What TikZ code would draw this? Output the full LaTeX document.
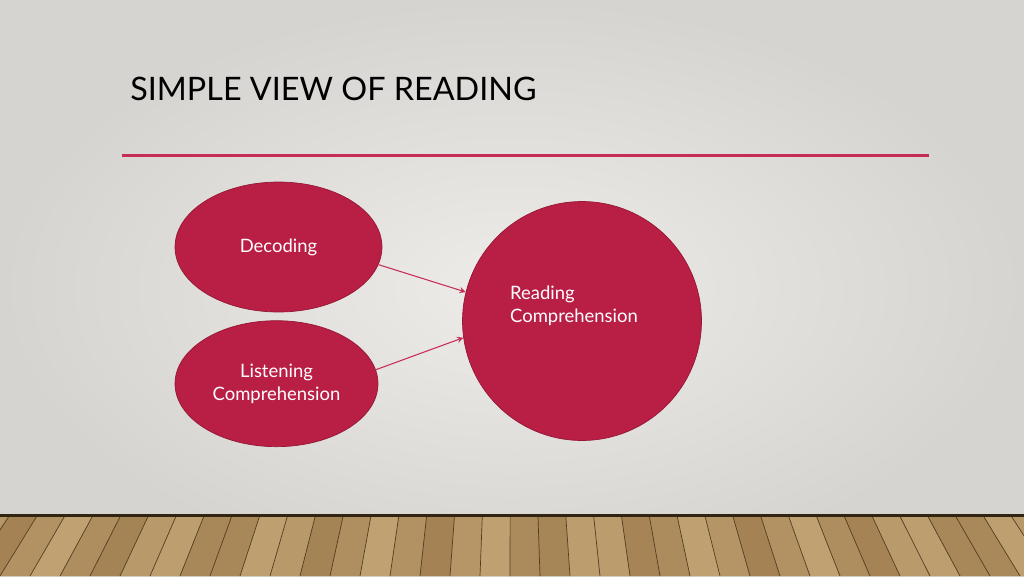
\documentclass[tikz,border=0pt]{standalone}
\usepackage{fontspec}
\setmainfont{Lato}
\usetikzlibrary{shapes, arrows, calc, positioning}

\definecolor{berry}{RGB}{185,30,68}
\definecolor{berryline}{RGB}{198,44,84}
\definecolor{wall}{RGB}{238,236,232}
\definecolor{walledge}{RGB}{214,212,208}
\definecolor{woodA}{RGB}{196,166,118}
\definecolor{woodB}{RGB}{160,126,80}
\definecolor{seam}{RGB}{84,60,32}

\begin{document}
\begin{tikzpicture}[>=stealth, x=0.02cm, y=-0.02cm, node distance=0.16cm]
	\tikzstyle{format} = [fill=berry, draw=berry!80!black, ellipse, text=white, font=\fontsize{10.5}{13}\selectfont, align=center, inner sep=0pt]
	\tikzstyle{link} = [->, berryline, line width=0.6pt]

	\useasboundingbox (0,0) rectangle (1024,576);
	\fill[inner color=wall, outer color=walledge] (0,0) rectangle (1024,576);

	\begin{scope}
		\clip (0,514) rectangle (1024,576);
		\fill[woodA] (0,514) rectangle (1024,576);
		\foreach \i [evaluate=\i as \x using \i*30] in {-2,...,36} {
			\pgfmathsetmacro{\tone}{int(50+40*sin(\i*97))}
			\fill[woodA!\tone!woodB] (\x,576) -- ($(\x,576)!0.0745!(512,-256)$) -- ($(\x+30,576)!0.0745!(512,-256)$) -- (\x+30,576) -- cycle;
			\draw[seam, line width=0.4pt] (\x,576) -- ($(\x,576)!0.0745!(512,-256)$);
		}
		\fill[seam!60!black] (0,514) rectangle (1024,516.5);
	\end{scope}

	\node[anchor=base west, inner sep=0pt, font=\fontsize{18.4}{20}\selectfont] (title) at (130,100) {SIMPLE VIEW OF READING};
	\draw[berryline, line width=1.7pt] (122,155) -- (929,155);

	\path
		node[format, minimum width=4.14cm, minimum height=2.6cm] (dec) at (278.5,247) {Decoding}
		node[format, minimum width=4.06cm, minimum height=2.52cm, below=of dec, xshift=-0.04cm] (lis) {Listening\\Comprehension}
		node[format, circle, minimum size=4.78cm] (rc) at (582,321) {}

		(dec.-10) edge[link] (rc.166)
		(lis.8) edge[link] (rc.188)
	;
	\node[text=white, font=\fontsize{10.5}{13}\selectfont, align=left] (rctext) at ($(rc.center)+(-8,-15)$) {Reading\\Comprehension};
\end{tikzpicture}
\end{document}
